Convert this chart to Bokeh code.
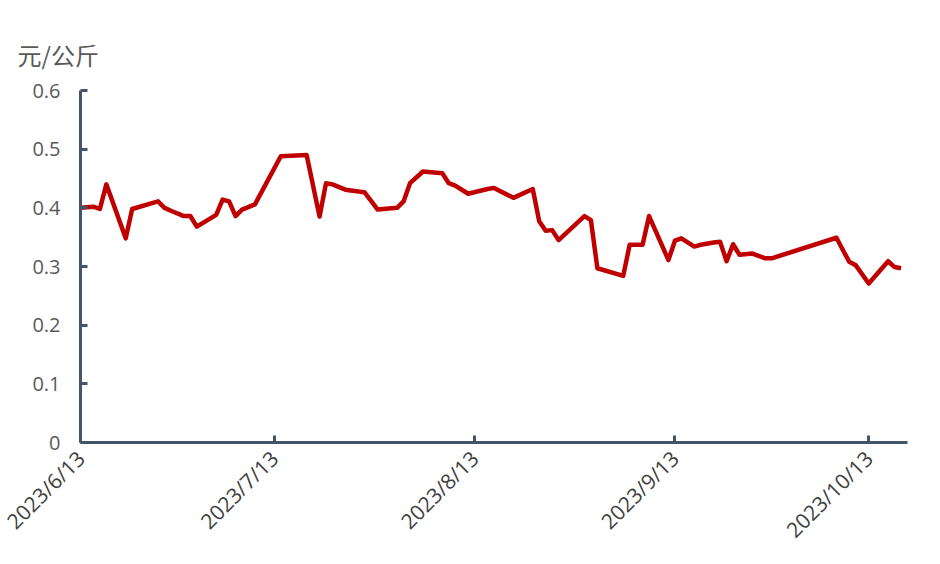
import pandas as pd
from bokeh.plotting import figure
from bokeh.models import ColumnDataSource, FixedTicker, Range1d
from bokeh.embed import file_html
from bokeh.resources import INLINE
import math

# ---- data ----
dates = ["2023-06-13", "2023-06-15", "2023-06-16", "2023-06-17", "2023-06-20", "2023-06-21",
         "2023-06-25", "2023-06-26", "2023-06-27", "2023-06-29", "2023-06-30", "2023-07-01",
         "2023-07-04", "2023-07-05", "2023-07-06", "2023-07-07", "2023-07-08", "2023-07-10",
         "2023-07-14", "2023-07-18", "2023-07-20", "2023-07-21", "2023-07-22", "2023-07-24",
         "2023-07-26", "2023-07-27", "2023-07-29", "2023-08-01", "2023-08-02", "2023-08-03",
         "2023-08-05", "2023-08-08", "2023-08-09", "2023-08-10", "2023-08-12", "2023-08-15",
         "2023-08-16", "2023-08-19", "2023-08-22", "2023-08-23", "2023-08-24", "2023-08-25",
         "2023-08-26", "2023-08-30", "2023-08-31", "2023-09-01", "2023-09-05", "2023-09-06",
         "2023-09-08", "2023-09-09", "2023-09-12", "2023-09-13", "2023-09-14", "2023-09-16",
         "2023-09-17", "2023-09-19", "2023-09-20", "2023-09-21", "2023-09-22", "2023-09-23",
         "2023-09-25", "2023-09-27", "2023-09-28", "2023-10-08", "2023-10-09", "2023-10-10",
         "2023-10-11", "2023-10-13", "2023-10-16", "2023-10-17", "2023-10-18"]
prices = [0.400, 0.402, 0.398, 0.440, 0.348, 0.398,
          0.411, 0.400, 0.395, 0.386, 0.386, 0.368,
          0.388, 0.414, 0.411, 0.386, 0.397, 0.406,
          0.488, 0.490, 0.385, 0.442, 0.440, 0.431,
          0.428, 0.426, 0.397, 0.400, 0.411, 0.442,
          0.462, 0.459, 0.442, 0.438, 0.424, 0.432,
          0.434, 0.417, 0.432, 0.377, 0.361, 0.362,
          0.345, 0.386, 0.379, 0.297, 0.284, 0.337,
          0.337, 0.386, 0.311, 0.344, 0.348, 0.334,
          0.337, 0.341, 0.342, 0.309, 0.338, 0.320,
          0.322, 0.314, 0.314, 0.349, 0.328, 0.308,
          0.302, 0.271, 0.309, 0.299, 0.297]
tick_dates = ["2023-06-13", "2023-07-13", "2023-08-13", "2023-09-13", "2023-10-13"]
tick_labels = ["2023/6/13", "2023/7/13", "2023/8/13", "2023/9/13", "2023/10/13"]
y_ticks = [0, 0.1, 0.2, 0.3, 0.4, 0.5, 0.6]
y_tick_labels = ["0", "0.1", "0.2", "0.3", "0.4", "0.5", "0.6"]
unit_label = "元/公斤"
x_start = "2023-06-13"
x_end = "2023-10-19"

# ---- build ----
src = ColumnDataSource(dict(date=pd.to_datetime(dates), price=prices))

def ms(d):
    return float(pd.Timestamp(d).value // 10**6)

p = figure(width=924, height=556, x_axis_type="datetime",
           output_backend="svg", toolbar_location=None,
           x_range=Range1d(ms(x_start), ms(x_end)), y_range=Range1d(0, 0.6),
           min_border_left=80, min_border_right=17, min_border_top=90, min_border_bottom=114)
p.outline_line_color = None
p.background_fill_color = "white"
p.border_fill_color = "white"
p.xgrid.grid_line_color = None
p.ygrid.grid_line_color = None

p.line("date", "price", source=src, line_color="#C00000", line_width=4.5, line_join="round")

axis_color = "#44546A"
tick_ms = [ms(d) for d in tick_dates]
p.xaxis.ticker = FixedTicker(ticks=tick_ms)
p.xaxis.major_label_overrides = {t: l for t, l in zip(tick_ms, tick_labels)}
p.xaxis.major_label_orientation = math.pi / 4
p.xaxis.minor_tick_line_color = None
p.yaxis.ticker = FixedTicker(ticks=y_ticks)
p.yaxis.major_label_overrides = {t: l for t, l in zip(y_ticks, y_tick_labels)}
p.yaxis.minor_tick_line_color = None

for ax in (p.xaxis[0], p.yaxis[0]):
    ax.axis_line_color = axis_color
    ax.axis_line_width = 3
    ax.major_tick_line_color = axis_color
    ax.major_tick_line_width = 3
    ax.major_tick_in = 7
    ax.major_tick_out = 0
    ax.major_label_text_font = "Open Sans"
    ax.major_label_text_font_size = "20px"

p.yaxis.major_label_text_color = "#595959"
p.yaxis.major_label_standoff = 20
p.xaxis.major_label_text_color = "#404040"
p.xaxis.major_label_text_font_size = "21px"
p.xaxis.major_label_standoff = 12

p.title.text = unit_label
p.title.align = "left"
p.title.offset = -63
p.title.standoff = 37
p.title.text_font = "Noto Sans CJK SC"
p.title.text_font_size = "24px"
p.title.text_font_style = "normal"
p.title.text_color = "#595959"

open("out.html", "w").write(file_html(p, INLINE))
